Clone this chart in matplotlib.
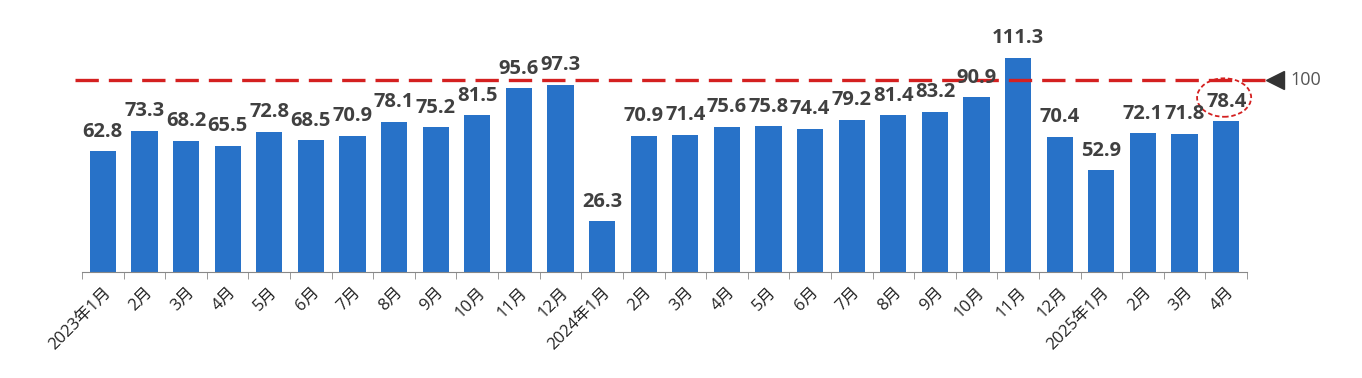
import matplotlib
matplotlib.use("Agg")
import matplotlib.pyplot as plt
from matplotlib.patches import Ellipse
import numpy as np

plt.rcParams['font.family'] = ['Open Sans', 'Noto Sans CJK SC', 'DejaVu Sans']

months = ["2023年1月", "2月", "3月", "4月", "5月", "6月", "7月", "8月", "9月", "10月", "11月", "12月",
          "2024年1月", "2月", "3月", "4月", "5月", "6月", "7月", "8月", "9月", "10月", "11月", "12月",
          "2025年1月", "2月", "3月", "4月"]
values = [62.8, 73.3, 68.2, 65.5, 72.8, 68.5, 70.9, 78.1, 75.2, 81.5, 95.6, 97.3,
          26.3, 70.9, 71.4, 75.6, 75.8, 74.4, 79.2, 81.4, 83.2, 90.9, 111.3, 70.4,
          52.9, 72.1, 71.8, 78.4]
ref_value = 100

BLUE = "#2872C8"
RED = "#D42020"
GREY = "#404040"

fig = plt.figure(figsize=(13.62, 3.78), dpi=100)
ax = fig.add_axes([82 / 1362, 106 / 378, (1247 - 82) / 1362, 230.8 / 378])

x = np.arange(len(values))
ax.bar(x, values, width=0.63, color=BLUE)
ax.set_xlim(-0.5, len(values) - 0.5)
ax.set_ylim(0, 120)

for xi, v in zip(x, values):
    ax.text(xi, v + 5, f"{v:.1f}", ha="center", va="bottom", fontsize=14.5,
            fontweight="bold", color=GREY)

# reference line at 100
n = len(values)
ax.plot([-0.67, n - 0.07], [ref_value, ref_value], color=RED, lw=2.4,
        ls=(0, (7, 3)), clip_on=False)
ax.plot([n + 0.17], [ref_value], marker="<", color="#333333", ms=13,
        clip_on=False)
ax.annotate(str(ref_value), xy=(n + 0.55, ref_value), ha="left", va="center",
            fontsize=13, color="#555555", annotation_clip=False)

# highlight last value
last = n - 1
ax.add_patch(Ellipse((last - 0.05, 90.7), 1.3, 20, fill=False,
                     ec=RED, ls=(0, (2.5, 1.5)), lw=1.3, clip_on=False))

ax.set_xticks(x)
ax.set_xticklabels(months, rotation=45, ha="right", rotation_mode="anchor",
                   fontsize=12, color="#222222")
ax.tick_params(axis="x", length=0, pad=9)
ax.set_xticks(np.arange(-0.5, n), minor=True)
ax.tick_params(axis="x", which="minor", length=5, color="#888888")
ax.set_yticks([])
for s in ["top", "right", "left"]:
    ax.spines[s].set_visible(False)
ax.spines["bottom"].set_color("#888888")

fig.savefig("out.png", dpi=100, facecolor="white")
